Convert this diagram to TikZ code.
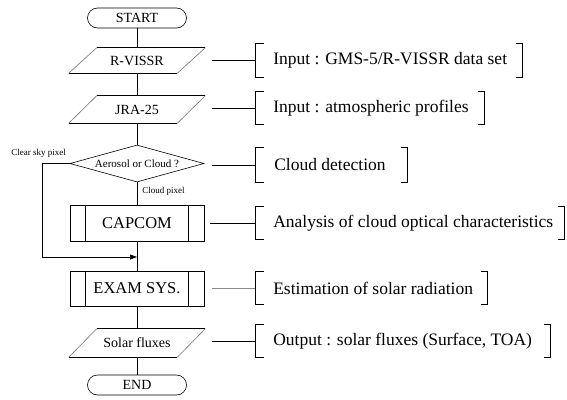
\documentclass[tikz,border=0pt]{standalone}
\usepackage{fontspec}
\setmainfont{Liberation Serif}
\usetikzlibrary{shapes.geometric,arrows.meta}
\begin{document}
\begin{tikzpicture}[x=1pt,y=-1pt, line width=0.6pt,
  term/.style={draw, rounded corners=10pt, minimum width=99pt, minimum height=20pt, inner sep=0pt, font=\fontsize{14}{14}\selectfont},
  io/.style={minimum width=136pt, inner sep=0pt, font=\fontsize{14}{14}\selectfont},
  dec/.style={draw, diamond, minimum width=134pt, minimum height=37pt, aspect=3.6, inner sep=0pt, font=\fontsize{11}{11}\selectfont},
  proc/.style={draw, minimum width=134pt, minimum height=36pt, inner sep=0pt, font=\fontsize{16.5}{16.5}\selectfont},
  brk/.style={minimum height=32pt, inner sep=0pt, anchor=west},
  note/.style={anchor=west, inner sep=0pt, font=\fontsize{17.5}{17.5}\selectfont},
  small/.style={inner sep=0pt, anchor=west, font=\fontsize{9}{9}\selectfont},
  tip/.style={-{Triangle[length=7pt,width=5pt]}},
]
\useasboundingbox (0,0) rectangle (567,399);

% flowchart nodes
\node[term] (start) at (137,18) {START};
\node[io, minimum height=25pt] (rv) at (137,60.5) {R-VISSR};
\node[io, minimum height=27pt] (jra) at (137,109.5) {JRA-25};
\node[dec] (dec) at (137,163.5) {Aerosol or Cloud ?};
\node[proc] (cap) at (137,223) {CAPCOM};
\node[proc, minimum height=35pt] (exam) at (137,288.5) {EXAM SYS.};
\node[io, minimum height=28pt] (sol) at (137,343) {Solar fluxes};
\node[term] (end) at (137,385) {END};

% parallelograms
\foreach \n in {rv,jra,sol}{
  \draw ([xshift=28pt]\n.north west) -- (\n.north east);
  \draw ([xshift=-28pt]\n.south east) -- (\n.south west);
  \draw[black!55] (\n.north east) -- ([xshift=-28pt]\n.south east);
  \draw[black!55] (\n.south west) -- ([xshift=28pt]\n.north west);
}
% predefined process inner lines
\foreach \n in {cap,exam}{
  \draw ([xshift=16pt]\n.north west) -- ([xshift=16pt]\n.south west);
  \draw ([xshift=-16pt]\n.north east) -- ([xshift=-16pt]\n.south east);
}

% main connectors
\draw (start) -- (rv);
\draw (rv) -- (jra);
\draw (jra) -- (dec);
\draw (dec) -- (cap);
\draw (cap) -- (exam);
\draw (exam) -- (sol);
\draw (sol) -- (end);

% bypass
\coordinate (m) at (137,257);
\draw[tip] (dec.west) -- ++(-27,0) |- (m);
\node[small] (lclear) at (11,153) {Clear sky pixel};
\node[small] (lcloud) at (142,191) {Cloud pixel};

% brackets
\node[brk, minimum width=267pt, minimum height=33pt] (b1) at (255,60.5) {};
\node[brk, minimum width=229pt] (b2) at (255,108) {};
\node[brk, minimum width=152pt, minimum height=34pt] (b3) at (255,165) {};
\node[brk, minimum width=309pt] (b4) at (255,223) {};
\node[brk, minimum width=232pt] (b5) at (255,288) {};
\node[brk, minimum width=295pt] (b6) at (255,341) {};
\foreach \b in {b1,b2,b3,b4,b5,b6}{
  \draw ([xshift=9pt]\b.north west) -- (\b.north west) -- (\b.south west) -- ([xshift=9pt]\b.south west);
  \draw ([xshift=-7pt]\b.north east) -- (\b.north east) -- (\b.south east) -- ([xshift=-7pt]\b.south east);
}
\node[note] (t1) at ([xshift=18pt]b1.west) {Input : GMS-5/R-VISSR data set};
\node[note] (t2) at ([xshift=18pt]b2.west) {Input : atmospheric profiles};
\node[note] (t3) at ([xshift=19pt]b3.west) {Cloud detection};
\node[note] (t4) at ([xshift=18pt]b4.west) {Analysis of cloud optical characteristics};
\node[note] (t5) at ([xshift=18pt]b5.west) {Estimation of solar radiation};
\node[note] (t6) at ([xshift=18pt]b6.west) {Output : solar fluxes (Surface, TOA)};

% side connectors
\coordinate (c1) at (212,60.5);
\coordinate (c2) at (212,108);
\coordinate (c3) at (212,165);
\coordinate (c4) at (210,223);
\coordinate (c5) at (212,288);
\coordinate (c6) at (212,341);
\draw (c1) -- (b1.west);
\draw (c2) -- (b2.west);
\draw (c3) -- (b3.west);
\draw (c4) -- (b4.west);
\draw[black!45] (c5) -- (b5.west);
\draw (c6) -- (b6.west);
\end{tikzpicture}
\end{document}
